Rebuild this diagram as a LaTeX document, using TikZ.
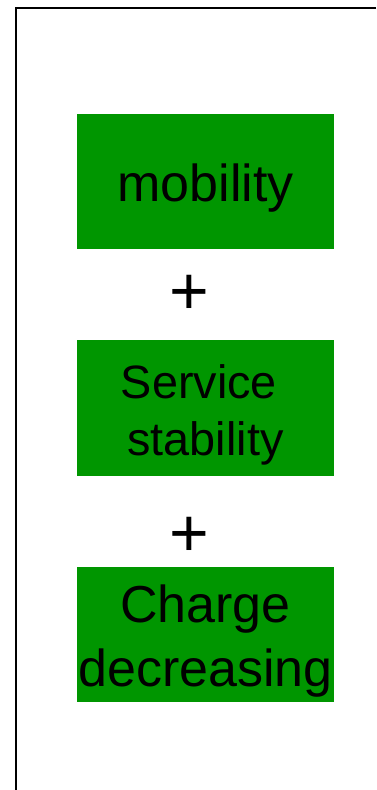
\documentclass[tikz,border=0pt]{standalone}
\usepackage{fontspec}
\setmainfont{Liberation Sans}
\usetikzlibrary{positioning}
\definecolor{boxgreen}{RGB}{0,150,0}
\newcommand{\boxstrut}[1]{\rule{0pt}{#1}}

\begin{document}
\begin{tikzpicture}[x=1pt, y=-1pt, node distance=226.5pt, semithick]
            \tikzstyle{greenbox}=[fill=boxgreen, text=black, minimum width=257pt, minimum height=135.5pt, inner sep=0pt, align=center, font=\fontsize{52}{63.5}\selectfont]
            \tikzstyle{plus}=[inner sep=0pt, text=black, font=\fontsize{68}{70}\selectfont]

            \useasboundingbox (0,0) rectangle (376,790);
            \draw[line width=2pt] (376,8) -- (16,8) -- (16,790);

            % the three boxes, top to bottom
            \node[greenbox] (mobility) at (205.5,181.5) {\boxstrut{50pt}mobility};
            \node[greenbox] (stability) [below of=mobility, font=\fontsize{46.8}{57}\selectfont] {\boxstrut{47pt}Service\rule{.28em}{0pt}\\stability};
            \node[greenbox] (charge) [below of=stability] {\boxstrut{51pt}Charge\\decreasing};

            \node[plus] (plusa) [below of=mobility, node distance=113.5pt, xshift=-16pt] {+};
            \node[plus] (plusb) [below of=stability, node distance=129pt, xshift=-16pt] {+};
        \end{tikzpicture}
\end{document}
